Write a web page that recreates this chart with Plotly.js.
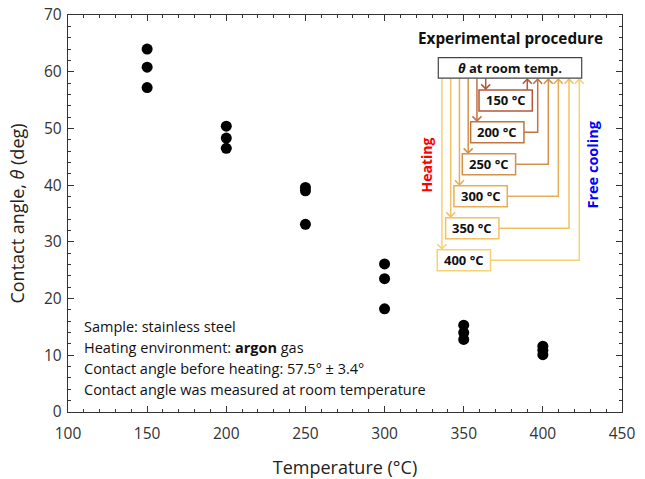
<!DOCTYPE html>
<html><head><meta charset="utf-8">
<script src="https://cdn.plot.ly/plotly-3.0.1.min.js"></script>
<style>html,body{margin:0;padding:0;background:#fff}#c{width:645px;height:479px}</style>
</head><body><div id="c"></div>
<script>
// Data
const temps = [150,150,150,200,200,200,250,250,250,300,300,300,350,350,350,400,400,400];
const angles = [64.0,60.8,57.2, 50.4,48.3,46.5, 39.6,39.0,33.1, 26.1,23.5,18.2, 15.3,14.0,12.8, 11.6,10.9,10.1];
const stepLabels = ['150 °C','200 °C','250 °C','300 °C','350 °C','400 °C'];
const stepColors = ['#b5573a','#c27440','#d3924a','#e8ad58','#f0c262','#f6d176'];
const noteLines = ['Sample: stainless steel','Heating environment: <b>argon</b> gas','Contact angle before heating: 57.5° ± 3.4°','Contact angle was measured at room temperature'];

const W=645,H=479,L=68,R=23,T=15,B=66.5;
const pw=W-L-R, ph=H-T-B;
const fx=p=>(p-L)/pw, fy=p=>(H-B-p)/ph;
const font='"Open Sans", "Noto Sans", sans-serif';

const shapes=[], annotations=[];
function line(pts,color,w){
  let d=pts.map((p,i)=>(i?'L':'M')+fx(p[0]).toFixed(5)+','+fy(p[1]).toFixed(5)).join(' ');
  shapes.push({type:'path',xref:'paper',yref:'paper',path:d,line:{color:color,width:w||1.5},layer:'above'});
}
function arrowHead(x,y,dir,color){ // dir: 1 down, -1 up ; tip at (x,y)
  const s=4.5;
  line([[x-s,y-dir*s],[x,y],[x+s,y-dir*s]],color,1.6);
}
function rect(x0,y0,x1,y1,color,w){
  shapes.push({type:'rect',xref:'paper',yref:'paper',x0:fx(x0),x1:fx(x1),y0:fy(y1),y1:fy(y0),line:{color:color,width:w||1.5},fillcolor:'#fff',layer:'above'});
}
function text(t,x,y,opt){
  annotations.push(Object.assign({text:t,xref:'paper',yref:'paper',x:fx(x),y:fy(y),showarrow:false,xanchor:'center',yanchor:'middle',font:{family:font,size:14,color:'#000'}},opt||{}));
}

// Experimental procedure diagram
text('<b>Experimental procedure</b>',510,38,{font:{family:font,size:15.3,color:'#111'}});
const topBot=78.3;
for(let i=0;i<6;i++){
  const bx0=479-8.35*i, bx1=bx0+53.3, by0=90+32*i, by1=by0+21;
  const c=stepColors[i];
  const hx=485.7-8.75*i;
  line([[hx,topBot],[hx,by0-1]],c,1.5);
  arrowHead(hx,by0-1,1,c);
  const cx=[527.3,537.7,548.3,558.3,569,579.3][i];
  const my=(by0+by1)/2;
  if(i===0){ line([[cx,by0],[cx,topBot+1]],c,1.5); }
  else { line([[bx1,my],[cx,my],[cx,topBot+1]],c,1.5); }
  arrowHead(cx,topBot+1,-1,c);
}
for(let i=0;i<6;i++){
  const bx0=479-8.35*i, bx1=bx0+53.3, by0=90+32*i, by1=by0+21;
  rect(bx0,by0,bx1,by1,stepColors[i],1.5);
  text('<b>'+stepLabels[i]+'</b>',(bx0+bx1)/2,(by0+by1)/2,{font:{family:font,size:13,color:'#111'}});
}
rect(438.3,57.7,581.7,78.3,'#444',1.2);
text('<b><i>θ</i> at room temp.</b>',510,68,{font:{family:font,size:13,color:'#111'}});
text('<b>Heating</b>',426.7,165,{textangle:-90,font:{family:font,size:14,color:'#ff0000'}});
text('<b>Free cooling</b>',592.7,165,{textangle:-90,font:{family:font,size:14.5,color:'#0000ff'}});

// notes
noteLines.forEach((t,i)=>text(t,82,327+21*i,{xanchor:'left',font:{family:font,size:14.5,color:'#111'}}));

const axisCommon={showline:true,linecolor:'#333',linewidth:1.2,mirror:'allticks',ticks:'inside',ticklen:6,tickwidth:1,tickcolor:'#333',
  showgrid:false,zeroline:false,tickfont:{family:font,size:15.5,color:'#333'}};
const layout={
  width:W,height:H,margin:{l:L,r:R,t:T,b:B},paper_bgcolor:'#fff',plot_bgcolor:'#fff',showlegend:false,
  xaxis:Object.assign({},axisCommon,{range:[100,450],dtick:50,tick0:100,ticklabelstandoff:7,minor:{dtick:10,ticks:'inside',ticklen:3,tickcolor:'#333'},
    title:{text:'Temperature (°C)',font:{family:font,size:18,color:'#222'},standoff:22}}),
  yaxis:Object.assign({},axisCommon,{range:[0,70],dtick:10,tick0:0,ticklabelstandoff:2,minor:{dtick:2,ticks:'inside',ticklen:3,tickcolor:'#333'},
    title:{text:'Contact angle, <i>θ</i> (deg)',font:{family:font,size:18,color:'#222'},standoff:14}}),
  shapes:shapes,annotations:annotations
};
Plotly.newPlot('c',[{x:temps,y:angles,type:'scatter',mode:'markers',marker:{color:'#000',size:11}}],layout,{displayModeBar:false,staticPlot:true});
</script></body></html>
